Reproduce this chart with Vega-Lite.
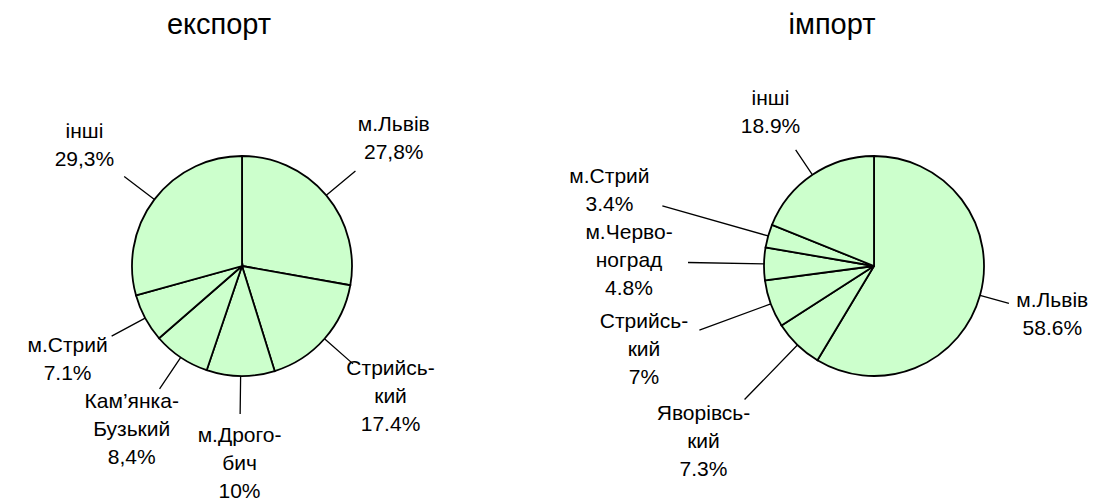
{
  "$schema": "https://vega.github.io/schema/vega-lite/v6.json",
  "padding": {"left": 0, "top": 11, "right": 0, "bottom": 0},
  "bounds": "flush",
  "spacing": 170,
  "config": {
    "view": {"stroke": null},
    "title": {"font": "Liberation Sans", "fontSize": 29, "fontWeight": "normal", "color": "#000000", "baseline": "alphabetic", "offset": 6},
    "text": {"font": "Liberation Sans", "fontSize": 21, "color": "#000000"}
  },
  "hconcat": [
    {
      "width": 484,
      "height": 440,
      "title": {"text": "експорт", "dx": -23},
      "data": {"values": [
        {"ord": 1, "region": "м.Львів", "share": 27.8, "label": "м.Львів\n27,8%"},
        {"ord": 2, "region": "Стрийський", "share": 17.4, "label": "Стрийсь-\nкий\n17.4%"},
        {"ord": 3, "region": "м.Дрогобич", "share": 10, "label": "м.Дрого-\nбич\n10%"},
        {"ord": 4, "region": "Кам’янка-Бузький", "share": 8.4, "label": "Кам’янка-\nБузький\n8,4%"},
        {"ord": 5, "region": "м.Стрий", "share": 7.1, "label": "м.Стрий\n7.1%"},
        {"ord": 6, "region": "інші", "share": 29.3, "label": "інші\n29,3%"}
      ]},
      "transform": [{"stack": "share", "groupby": [], "sort": [{"field": "ord", "order": "ascending"}], "as": ["s0", "s1"]}],
      "layer": [
        {
          "mark": {"type": "arc", "outerRadius": 110, "fill": "#CCFFCC", "stroke": "#000000", "strokeWidth": 1.8},
          "encoding": {
            "theta": {"field": "s0", "type": "quantitative", "stack": null, "scale": {"domain": [0, 100]}},
            "theta2": {"field": "s1"}
          }
        },
        {
          "transform": [
            {"fold": ["s0", "s1"], "as": ["edge", "pos"]},
            {"aggregate": [{"op": "mean", "field": "pos", "as": "mid"}], "groupby": ["ord", "region", "label"]}
          ],
          "mark": {"type": "arc", "innerRadius": 110, "outerRadius": 148, "fillOpacity": 0, "stroke": "#000000", "strokeWidth": 1.3},
          "encoding": {
            "theta": {"field": "mid", "type": "quantitative", "stack": null, "scale": {"domain": [0, 100]}},
            "theta2": {"field": "mid"}
          }
        },
        {
          "transform": [
            {"fold": ["s0", "s1"], "as": ["edge", "pos"]},
            {"aggregate": [{"op": "mean", "field": "pos", "as": "mid"}], "groupby": ["ord", "region", "label"]},
            {"filter": "datum.ord == 1 || datum.ord == 5 || datum.ord == 6"}
          ],
          "mark": {"type": "text", "radius": 198, "dy": -14, "lineBreak": "\n", "lineHeight": 28, "align": "center", "baseline": "middle"},
          "encoding": {
            "theta": {"field": "mid", "type": "quantitative", "stack": null, "scale": {"domain": [0, 100]}},
            "text": {"field": "label", "type": "nominal"}
          }
        },
        {
          "transform": [
            {"fold": ["s0", "s1"], "as": ["edge", "pos"]},
            {"aggregate": [{"op": "mean", "field": "pos", "as": "mid"}], "groupby": ["ord", "region", "label"]},
            {"filter": "datum.ord >= 2 && datum.ord <= 4"}
          ],
          "mark": {"type": "text", "radius": 198, "dy": -28, "lineBreak": "\n", "lineHeight": 28, "align": "center", "baseline": "middle"},
          "encoding": {
            "theta": {"field": "mid", "type": "quantitative", "stack": null, "scale": {"domain": [0, 100]}},
            "text": {"field": "label", "type": "nominal"}
          }
        }
      ]
    },
    {
      "width": 440,
      "height": 440,
      "title": {"text": "імпорт", "dx": -42},
      "data": {"values": [
        {"ord": 1, "region": "м.Львів", "share": 58.6, "label": "м.Львів\n58.6%"},
        {"ord": 2, "region": "Яворівський", "share": 7.3, "label": "Яворівсь-\nкий\n7.3%"},
        {"ord": 3, "region": "Стрийський", "share": 7, "label": "Стрийсь-\nкий\n7%"},
        {"ord": 4, "region": "м.Червоноград", "share": 4.8, "label": "м.Черво-\nноград\n4.8%"},
        {"ord": 5, "region": "м.Стрий", "share": 3.4, "label": "м.Стрий\n3.4%"},
        {"ord": 6, "region": "інші", "share": 18.9, "label": "інші\n18.9%"}
      ]},
      "transform": [{"stack": "share", "groupby": [], "sort": [{"field": "ord", "order": "ascending"}], "as": ["s0", "s1"]}],
      "layer": [
        {
          "mark": {"type": "arc", "outerRadius": 110, "fill": "#CCFFCC", "stroke": "#000000", "strokeWidth": 1.8},
          "encoding": {
            "theta": {"field": "s0", "type": "quantitative", "stack": null, "scale": {"domain": [0, 100]}},
            "theta2": {"field": "s1"}
          }
        },
        {
          "transform": [
            {"fold": ["s0", "s1"], "as": ["edge", "pos"]},
            {"aggregate": [{"op": "mean", "field": "pos", "as": "mid"}], "groupby": ["ord", "region", "label"]},
            {"filter": "datum.ord == 1 || datum.ord == 6"}
          ],
          "mark": {"type": "arc", "innerRadius": 110, "outerRadius": 140, "fillOpacity": 0, "stroke": "#000000", "strokeWidth": 1.3},
          "encoding": {
            "theta": {"field": "mid", "type": "quantitative", "stack": null, "scale": {"domain": [0, 100]}},
            "theta2": {"field": "mid"}
          }
        },
        {
          "transform": [
            {"fold": ["s0", "s1"], "as": ["edge", "pos"]},
            {"aggregate": [{"op": "mean", "field": "pos", "as": "mid"}], "groupby": ["ord", "region", "label"]},
            {"filter": "datum.ord >= 2 && datum.ord <= 4"}
          ],
          "mark": {"type": "arc", "innerRadius": 110, "outerRadius": 186, "fillOpacity": 0, "stroke": "#000000", "strokeWidth": 1.3},
          "encoding": {
            "theta": {"field": "mid", "type": "quantitative", "stack": null, "scale": {"domain": [0, 100]}},
            "theta2": {"field": "mid"}
          }
        },
        {
          "transform": [
            {"fold": ["s0", "s1"], "as": ["edge", "pos"]},
            {"aggregate": [{"op": "mean", "field": "pos", "as": "mid"}], "groupby": ["ord", "region", "label"]},
            {"filter": "datum.ord == 5"}
          ],
          "mark": {"type": "arc", "innerRadius": 110, "outerRadius": 220, "fillOpacity": 0, "stroke": "#000000", "strokeWidth": 1.3},
          "encoding": {
            "theta": {"field": "mid", "type": "quantitative", "stack": null, "scale": {"domain": [0, 100]}},
            "theta2": {"field": "mid"}
          }
        },
        {
          "transform": [
            {"fold": ["s0", "s1"], "as": ["edge", "pos"]},
            {"aggregate": [{"op": "mean", "field": "pos", "as": "mid"}], "groupby": ["ord", "region", "label"]},
            {"filter": "datum.ord == 1 || datum.ord == 6"}
          ],
          "mark": {"type": "text", "radius": 185, "dy": -14, "lineBreak": "\n", "lineHeight": 28, "align": "center", "baseline": "middle"},
          "encoding": {
            "theta": {"field": "mid", "type": "quantitative", "stack": null, "scale": {"domain": [0, 100]}},
            "text": {"field": "label", "type": "nominal"}
          }
        },
        {
          "transform": [
            {"fold": ["s0", "s1"], "as": ["edge", "pos"]},
            {"aggregate": [{"op": "mean", "field": "pos", "as": "mid"}], "groupby": ["ord", "region", "label"]},
            {"filter": "datum.ord >= 2 && datum.ord <= 4"}
          ],
          "mark": {"type": "text", "radius": 245, "dy": -28, "lineBreak": "\n", "lineHeight": 28, "align": "center", "baseline": "middle"},
          "encoding": {
            "theta": {"field": "mid", "type": "quantitative", "stack": null, "scale": {"domain": [0, 100]}},
            "text": {"field": "label", "type": "nominal"}
          }
        },
        {
          "transform": [
            {"fold": ["s0", "s1"], "as": ["edge", "pos"]},
            {"aggregate": [{"op": "mean", "field": "pos", "as": "mid"}], "groupby": ["ord", "region", "label"]},
            {"filter": "datum.ord == 5"}
          ],
          "mark": {"type": "text", "radius": 275, "dy": -14, "lineBreak": "\n", "lineHeight": 28, "align": "center", "baseline": "middle"},
          "encoding": {
            "theta": {"field": "mid", "type": "quantitative", "stack": null, "scale": {"domain": [0, 100]}},
            "text": {"field": "label", "type": "nominal"}
          }
        }
      ]
    }
  ]
}
